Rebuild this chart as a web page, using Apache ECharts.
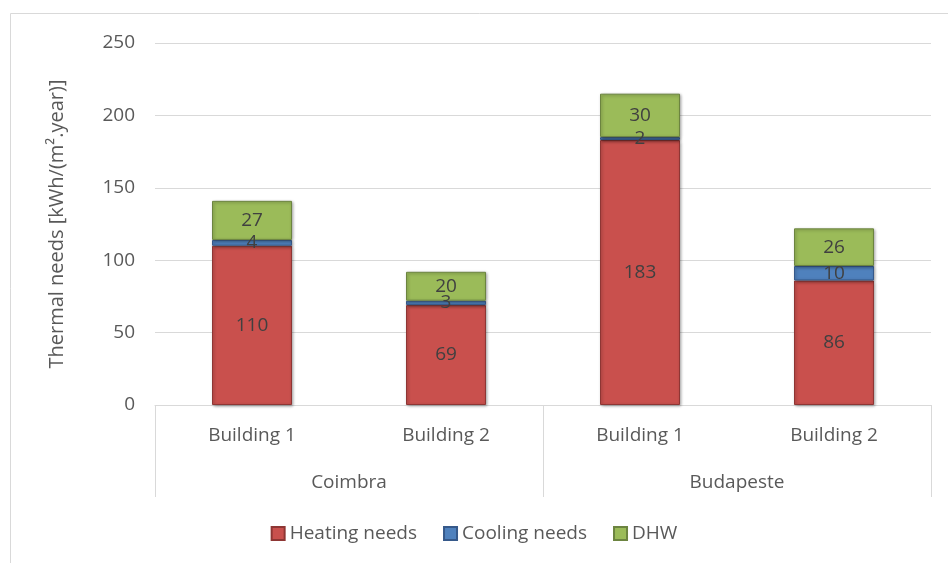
<!DOCTYPE html>
<html>
<head>
<meta charset="utf-8">
<script src="https://cdn.jsdelivr.net/npm/echarts@6/dist/echarts.min.js"></script>
<style>
  html, body { margin: 0; padding: 0; background: #fff; }
  #chart { width: 948px; height: 563px; }
</style>
</head>
<body>
<div id="chart"></div>
<script>
var buildings = ['Building 1', 'Building 2', 'Building 1', 'Building 2']
var cities = ['Coimbra', 'Budapeste']
var heating = [110, 69, 183, 86]
var cooling = [4, 3, 2, 10]
var dhw = [27, 20, 30, 26]
var yTicks = [0, 50, 100, 150, 200, 250]

window.onload = function () {
    var chart = echarts.init(document.getElementById('chart'))
    var font = '"Open Sans", "Noto Sans", sans-serif'

    function barSeries(name, data, color, border) {
        return {
            name: name,
            type: 'bar',
            stack: 'total',
            data: data,
            barWidth: 80,
            itemStyle: {
                color: color,
                borderColor: border,
                borderWidth: 1,
                shadowColor: 'rgba(0,0,0,0.35)',
                shadowBlur: 3,
                shadowOffsetX: 1,
                shadowOffsetY: 1
            },
            label: {
                show: true,
                position: 'inside',
                color: '#404040',
                fontSize: 19,
                fontFamily: font
            }
        }
    }

    var option = {
        animation: false,
        textStyle: { fontFamily: font },
        graphic: [{
            type: 'rect',
            shape: { x: 10.5, y: 13.5, width: 960, height: 600 },
            style: { fill: 'none', stroke: '#d9d9d9', lineWidth: 1 },
            silent: true
        }],
        grid: { left: 155, right: 17, top: 43, bottom: 158 },
        legend: {
            bottom: 15,
            left: 'center',
            itemWidth: 13,
            itemHeight: 13,
            itemGap: 26,
            icon: 'rect',
            textStyle: { color: '#595959', fontSize: 19, fontFamily: font },
            data: ['Heating needs', 'Cooling needs', 'DHW']
        },
        xAxis: [{
            type: 'category',
            data: buildings,
            axisLine: { lineStyle: { color: '#d9d9d9' } },
            axisTick: { show: false },
            axisLabel: { color: '#595959', fontSize: 19, margin: 21, fontFamily: font }
        }, {
            type: 'category',
            data: cities,
            position: 'bottom',
            axisLine: { show: false },
            axisTick: { show: true, length: 92, lineStyle: { color: '#d9d9d9' } },
            axisLabel: { color: '#595959', fontSize: 19, margin: 68, fontFamily: font },
            splitLine: { show: false }
        }],
        yAxis: {
            type: 'value',
            min: yTicks[0],
            max: yTicks[yTicks.length - 1],
            interval: 50,
            name: 'Thermal needs [kWh/(m\u00b2.year)]',
            nameLocation: 'middle',
            nameGap: 88,
            nameTextStyle: { color: '#595959', fontSize: 20, fontFamily: font },
            axisLine: { show: false },
            axisTick: { show: false },
            axisLabel: { color: '#595959', fontSize: 19, margin: 20, fontFamily: font },
            splitLine: { lineStyle: { color: '#d9d9d9', width: 1 } }
        },
        series: [
            barSeries('Heating needs', heating, '#c9504d', '#8e3634'),
            barSeries('Cooling needs', cooling, '#4f81bd', '#36598a'),
            barSeries('DHW', dhw, '#9bbb59', '#6c8440')
        ]
    }

    chart.setOption(option)
}
</script>
</body>
</html>
